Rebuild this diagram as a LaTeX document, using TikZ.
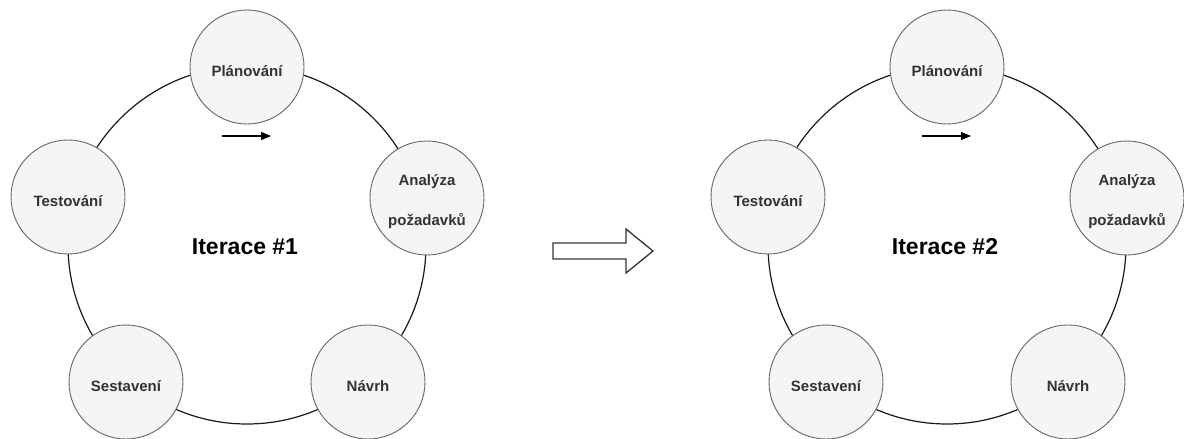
\documentclass[tikz,border=0pt]{standalone}
\usepackage{fontspec}
\setmainfont{Liberation Sans}
\usetikzlibrary{arrows.meta}
\definecolor{phasefill}{HTML}{F5F5F5}
\definecolor{phaseline}{HTML}{666666}
\definecolor{phasetext}{HTML}{333333}
% move a label down inside its circle without changing its box
\newcommand{\dropped}[1]{\raisebox{-4pt}[\height][\depth]{#1}}
\tikzset{
  phase/.style={circle, minimum size=114pt, inner sep=0pt, fill=phasefill,
    draw=phaseline, line width=0.9pt, text=phasetext, align=center,
    font=\bfseries\fontsize{15}{40}\selectfont},
  loop/.style={circle, minimum size=358pt, inner sep=0pt, draw=black!90, line width=1.2pt},
  looptitle/.style={font=\bfseries\fontsize{23}{28}\selectfont, text=black},
  flowarrow/.style={-{Triangle[length=10pt,width=8pt]}, line width=1.1pt, black},
  bigarrow/.style={draw=black!80, line width=1.3pt, fill=white, line join=miter}
}
\begin{document}
\begin{tikzpicture}[x=1pt,y=-1pt]
\useasboundingbox (0,0) rectangle (1184,439);

% two iterations of the same cycle, the second shifted by 700
\foreach \ox/\n in {0/1,700/2}{
  \begin{scope}[xshift=\ox pt]
    \node[loop] (ring\n) at (247,245) {};
    \node[looptitle] (title\n) at (245,247) {Iterace \#\n};
    \node[phase] (plan\n) at (247,67) {\dropped{Plánování}};
    \node[phase] (test\n) at (68,197) {\dropped{Testování}};
    \node[phase] (anal\n) at (427,198) {\dropped{Analýza}\\\dropped{požadavků}};
    \node[phase] (sest\n) at (126,382) {\dropped{Sestavení}};
    \node[phase] (navr\n) at (368,382) {\dropped{Návrh}};
    \coordinate (dirA\n) at (222,136);
    \coordinate (dirB\n) at (271,136);
    \draw[flowarrow] (dirA\n) -- (dirB\n);
  \end{scope}
}

% block arrow between the two iterations
\coordinate (ba1) at (553,243);
\coordinate (ba2) at (626,243);
\coordinate (ba3) at (626,229);
\coordinate (ba4) at (653,251);
\coordinate (ba5) at (626,273);
\coordinate (ba6) at (626,259);
\coordinate (ba7) at (553,259);
\draw[bigarrow] (ba1) -- (ba2) -- (ba3) -- (ba4) -- (ba5) -- (ba6) -- (ba7) -- cycle;
\end{tikzpicture}
\end{document}
